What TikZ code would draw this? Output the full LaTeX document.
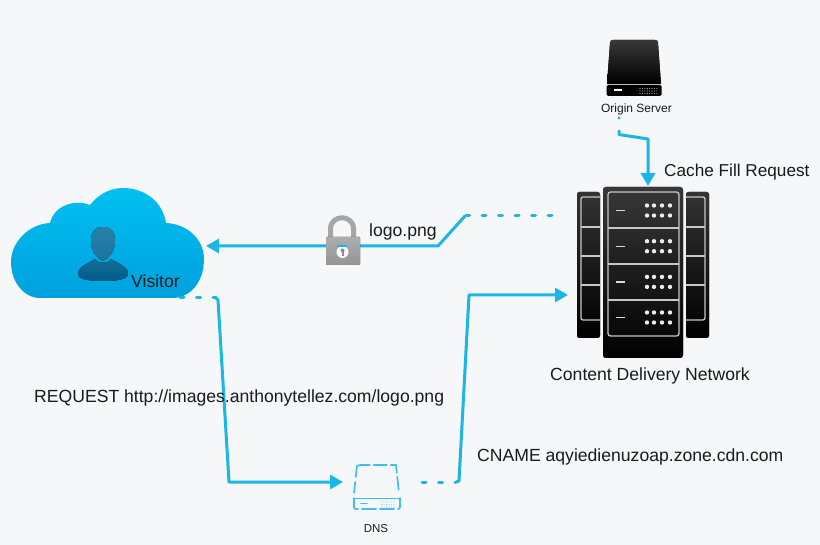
\documentclass[tikz,border=0pt]{standalone}
\usepackage{fontspec}
\setmainfont{Liberation Sans}
\usetikzlibrary{arrows.meta}
\definecolor{bgc}{HTML}{F6F7F8}
\definecolor{flow}{HTML}{1CB5E8}
\definecolor{txt}{HTML}{1A1A1A}
\tikzset{
  x=1pt,y=-1pt,
  flowline/.style={draw=flow,line width=3pt,line join=round},
  flowdash/.style={draw=flow,line width=3pt,line cap=round,dash pattern=on 4pt off 12.5pt},
  flowtip/.style={-{Triangle[length=13pt,width=14pt]}},
  lab/.style={inner sep=0pt,text=txt,font=\fontsize{17.6}{20}\selectfont},
  smalllab/.style={inner sep=0pt,text=txt,font=\fontsize{12}{14}\selectfont},
  rackline/.style={draw=white!78!black,line width=1.3pt},
  dnsline/.style={draw=flow!85!white,line width=1.7pt,line cap=round},
}
\begin{document}
\begin{tikzpicture}
\fill[bgc] (0,0) rectangle (820,545);
\useasboundingbox (0,0) rectangle (820,545);

% cloud
\path[shade,top color={rgb,255:red,0;green,192;blue,240},bottom color={rgb,255:red,0;green,160;blue,222}]
 (40,298) -- (172,298)
 .. controls (192,298) and (204,280) .. (204,259)
 .. controls (204,240) and (188,224) .. (166,223)
 .. controls (163,203) and (146,188) .. (123,188)
 .. controls (109,188) and (98,195) .. (90,205)
 .. controls (76,199) and (54,205) .. (50,223)
 .. controls (28,224) and (11,243) .. (11,262)
 .. controls (11,282) and (24,298) .. (40,298) -- cycle;
% person
\fill[top color={rgb,255:red,38;green,130;blue,170},bottom color={rgb,255:red,30;green,115;blue,155}]
 (103,227) .. controls (111,227) and (115,232) .. (115,241)
 .. controls (115,250) and (110,258) .. (103,261)
 .. controls (96,258) and (91,250) .. (91,241)
 .. controls (91,232) and (95,227) .. (103,227) -- cycle;
\fill[top color={rgb,255:red,20;green,110;blue,150},bottom color={rgb,255:red,0;green,90;blue,135}]
 (95,259) .. controls (98,264) and (108,264) .. (111,259)
 .. controls (118,264) and (128,266) .. (128,274)
 .. controls (128,280) and (115,281) .. (103,281)
 .. controls (91,281) and (78,280) .. (78,274)
 .. controls (78,266) and (88,264) .. (95,259) -- cycle;

% named end points of the connectors
\coordinate (originout) at (619,118);
\coordinate (origintail) at (619,131);
\coordinate (cachein) at (648,186);
\coordinate (cdnout) at (552,216);
\coordinate (visitorin) at (206,246);
\coordinate (visitorout) at (180,298);
\coordinate (dnsin) at (343,482);
\coordinate (dnsout) at (422,482);
\coordinate (cdnin) at (568,295);

% connectors
\fill[flow] (originout) circle (1.7pt);
\draw[flowline,line cap=round,flowtip] (origintail) -- ++(0,3.5) -- (648,139) -- (cachein);
\draw[flowdash] (cdnout) -- (465,216);
\draw[flowline,flowtip] (465,216) -- (438,246) -- (visitorin);
\draw[flowdash] (visitorout) -- (216,298);
\draw[flowline,flowtip] (216,298) -- (218,300) -- (229,482) -- (dnsin);
\draw[flowdash] (dnsout) -- (456,482);
\draw[flowline,flowtip] (456,482) -- (459,481) -- (469,295) -- (cdnin);

% origin drive
\fill[top color=black!78,bottom color=black]
 (613,40) -- (655,40) .. controls (657,40) and (658,41) .. (658,43)
 -- (661,84) -- (607,84) -- (610,43) .. controls (610,41) and (611,40) .. (613,40) -- cycle;
\draw[white!85!black,line width=.7pt] (607,84.5) -- (661,84.5);
\fill[black,rounded corners=1.5pt] (606.5,85) rectangle (661.5,96);
\fill[white] (614,89.5) rectangle (622,91.5);
\foreach \x in {640,642.4,...,657}{\foreach \y in {88.5,91,93.5}{\fill[white!75!black] (\x,\y) circle (.55pt);}}

% side racks
\foreach \xa/\xb in {577/600,686/709}{
  \fill[rounded corners=2.5pt,top color=black!80,bottom color=black] (\xa,192) rectangle (\xb,338);
}
\draw[rackline,rounded corners=2pt] (600,197) -- (581,197) -- (581,320) -- (600,320);
\draw[rackline,rounded corners=2pt] (686,197) -- (705,197) -- (705,320) -- (686,320);
\foreach \y in {227,256,285}{
  \draw[rackline] (581,\y) -- (600,\y);
  \draw[rackline] (686,\y) -- (705,\y);
}
% centre rack
\fill[rounded corners=3pt,top color=black!78,bottom color=black] (603,187) rectangle (683,358);
\draw[rackline,rounded corners=2.5pt] (608,192) rectangle (679,336);
\foreach \y in {228,264,300}{\draw[rackline] (608,\y) -- (679,\y);}
\foreach \y in {0,35.7,71.4,107}{
  \draw[white!85!black,line width=1.3pt] (616,210.5+\y) -- (625,210.5+\y);
  \foreach \x in {647,654,662,670}{
    \fill[white!92!black] (\x,205.5+\y) circle (2.2pt);
    \fill[white!92!black] (\x,215.5+\y) circle (2.2pt);
  }
}

% lock
\draw[white!65!black,line width=5pt] (330.5,240) -- (330.5,229) .. controls (330.5,214) and (353.5,214) .. (353.5,229) -- (353.5,240);
\fill[rounded corners=1pt,top color=white!68!black,bottom color=white!58!black] (326,237) rectangle (360,265);
\fill[white] (342.5,252) circle (6pt);
\fill[white!55!black] (342.5,250.5) circle (2pt);
\fill[white!55!black] (341.5,251) rectangle (343.5,256);
\draw[flow,line width=1.4pt] (337,246) -- (347,246);

% DNS icon
\draw[dnsline,dash pattern=on 13pt off 4pt] (357,466) .. controls (358,465) and (358,465) .. (360,465) -- (396,465) -- (399,493);
\draw[dnsline,dash pattern=on 11pt off 5pt] (357,466) -- (354,493);
\draw[dnsline,dash pattern=on 14pt off 4pt,rounded corners=2pt] (354,498) -- (354,509) -- (400,509) -- (400,498);
\draw[dnsline,line width=1pt] (354,498) -- (400,498);
\draw[dnsline] (361,503.5) -- (367,503.5);
\foreach \x in {381.5,384,...,396}{\foreach \y in {502,504.5,507}{\fill[flow!55!white] (\x,\y) circle (.6pt);}}

% labels
\node[smalllab,anchor=center] (origin) at (636.5,109.5) {Origin Server};
\node[lab,font=\fontsize{17.2}{20}\selectfont,anchor=west] (cache) at (664,172) {Cache Fill Request};
\node[lab,anchor=center] (cdn) at (650,376) {Content Delivery Network};
\node[lab,anchor=west] (logo) at (369,232) {logo.png};
\node[lab,anchor=west] (visitor) at (131,281) {Visitor};
\node[lab,anchor=west] (request) at (34,398) {REQUEST http://images.anthonytellez.com/logo.png};
\node[lab,anchor=west] (cname) at (477,457) {CNAME aqyiedienuzoap.zone.cdn.com};
\node[smalllab,font=\fontsize{11.5}{13}\selectfont,anchor=center] (dns) at (376,528.5) {DNS};
\end{tikzpicture}
\end{document}
